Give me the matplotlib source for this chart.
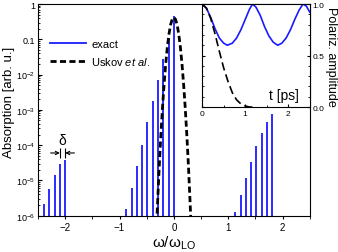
import matplotlib
matplotlib.use("Agg")
import matplotlib.pyplot as plt
import numpy as np
from matplotlib.ticker import FixedLocator, LogLocator, MultipleLocator, NullFormatter

plt.rcParams['font.family'] = ['Liberation Sans', 'DejaVu Sans']
plt.rcParams['mathtext.fontset'] = 'custom'
plt.rcParams['mathtext.rm'] = 'Liberation Sans'
plt.rcParams['mathtext.it'] = 'Liberation Sans:italic'

# main panel: absorption lines ("exact")
line_pos = [-2.388, -2.291, -2.194, -2.097, -2.0,
            -0.873, -0.776, -0.679, -0.582, -0.485, -0.388, -0.291, -0.194, -0.097, 0.0,
            1.13, 1.227, 1.324, 1.421, 1.518, 1.615, 1.712, 1.809]
line_height = [2.1e-6, 5.8e-6, 1.4e-5, 2.9e-5, 3.8e-5,
               1.55e-6, 6.2e-6, 2.6e-5, 1.0e-4, 4.5e-4, 1.75e-3, 6.9e-3, 2.75e-2, 0.112, 0.45,
               1.25e-6, 3.9e-6, 1.17e-5, 3.4e-5, 9.3e-5, 2.2e-4, 4.5e-4, 7.6e-4]

# main panel: Uskov et al. spectrum
usk_w = [-0.33, -0.30, -0.27, -0.24, -0.21, -0.18, -0.15, -0.12, -0.09, -0.06, -0.03, 0.0,
         0.03, 0.06, 0.09, 0.12, 0.15, 0.18, 0.21, 0.24, 0.27, 0.30, 0.33]
usk_abs = [1.8e-7, 2.2e-6, 2.3e-5, 1.8e-4, 1.1e-3, 5.2e-3, 2.0e-2, 6.0e-2, 0.14, 0.26, 0.37, 0.42,
           0.37, 0.26, 0.14, 6.0e-2, 2.0e-2, 5.2e-3, 1.1e-3, 1.8e-4, 2.3e-5, 2.2e-6, 1.8e-7]

# inset: polarization amplitude vs time
t_exact = [0.0, 0.1, 0.2, 0.3, 0.4, 0.5, 0.585, 0.7, 0.8, 0.9, 1.0, 1.1, 1.17,
           1.25, 1.35, 1.45, 1.55, 1.65, 1.755, 1.85, 1.95, 2.05, 2.15, 2.25, 2.34, 2.42, 2.5]
p_exact = [1.0, 0.96, 0.87, 0.76, 0.67, 0.62, 0.60, 0.62, 0.67, 0.75, 0.85, 0.95, 1.0,
           0.97, 0.89, 0.78, 0.69, 0.63, 0.60, 0.62, 0.67, 0.75, 0.85, 0.94, 1.0, 0.98, 0.92]
t_usk = [0.0, 0.1, 0.2, 0.3, 0.4, 0.5, 0.6, 0.7, 0.8, 0.9, 1.0, 1.1, 1.2]
p_usk = [1.0, 0.96, 0.86, 0.71, 0.54, 0.38, 0.25, 0.14, 0.07, 0.03, 0.01, 0.0, 0.0]

blue = '#1a1aff'

fig = plt.figure(figsize=(3.38, 2.53), dpi=100)
ax = fig.add_axes([0.1124, 0.1435, 0.8039, 0.8365])

ax.vlines(line_pos, 1e-6, line_height, color=blue, lw=1.3)
ax.plot([], [], color=blue, lw=1.3, label='exact')
ax.plot(usk_w, usk_abs, color='black', lw=2.0, ls=(0, (2.2, 1.2)),
        label='Uskov $\\it{et\\ al.}$')

ax.set_yscale('log')
ax.set_xlim(-2.5, 2.5)
ax.set_ylim(1e-6, 1)
ax.yaxis.set_major_locator(FixedLocator([1e-6, 1e-5, 1e-4, 1e-3, 1e-2, 0.1, 1]))
ax.set_yticklabels(['$10^{-6}$', '$10^{-5}$', '$10^{-4}$', '$10^{-3}$', '$10^{-2}$', '0.1', '1'])
ax.yaxis.set_minor_locator(LogLocator(base=10, subs=np.arange(2, 10)))
ax.yaxis.set_minor_formatter(NullFormatter())
ax.xaxis.set_major_locator(FixedLocator([-2, -1, 0, 1, 2]))
ax.xaxis.set_minor_locator(MultipleLocator(0.5))
ax.tick_params(axis='y', which='both', direction='in', labelsize=6.5, pad=2)
ax.tick_params(axis='y', which='major', length=3)
ax.tick_params(axis='y', which='minor', length=1.5)
ax.tick_params(axis='x', which='both', direction='out', labelsize=7, pad=2, length=2.5)
ax.set_xlabel('$\\mathrm{ω/ω}_{\\mathrm{LO}}$', fontsize=11, labelpad=1)
ax.set_ylabel('Absorption [arb. u.]', fontsize=9.5)
ax.yaxis.set_label_coords(-0.085, 0.54)
ax.legend(loc='upper left', bbox_to_anchor=(0.025, 0.86), frameon=False, fontsize=8,
          handlelength=3.2, handletextpad=0.5, labelspacing=0.55, borderpad=0)

# delta annotation between last two lines of the left group
ya = 6e-5
ax.annotate('', xy=(line_pos[3], ya), xytext=(line_pos[3] - 0.17, ya),
            arrowprops=dict(arrowstyle='->', lw=0.8, color='black', mutation_scale=6,
                            shrinkA=0, shrinkB=0))
ax.annotate('', xy=(line_pos[4], ya), xytext=(line_pos[4] + 0.17, ya),
            arrowprops=dict(arrowstyle='->', lw=0.8, color='black', mutation_scale=6,
                            shrinkA=0, shrinkB=0))
ax.vlines([line_pos[3], line_pos[4]], 4.3e-5, 8.5e-5, color='black', lw=0.8)
ax.text((line_pos[3] + line_pos[4]) / 2, 0.9e-4, 'δ', ha='center', va='bottom', fontsize=10)

# inset
ins = fig.add_axes([0.598, 0.573, 0.3186, 0.407])
ins.plot(t_exact, p_exact, color=blue, lw=1.2)
ins.plot(t_usk, p_usk, color='black', lw=1.2, ls=(0, (5, 2.5)))
ins.set_xlim(0, 2.5)
ins.set_ylim(0, 1)
ins.xaxis.set_major_locator(FixedLocator([0, 1, 2]))
ins.xaxis.set_minor_locator(MultipleLocator(0.5))
ins.yaxis.set_major_locator(FixedLocator([0, 0.5, 1.0]))
ins.yaxis.set_minor_locator(MultipleLocator(0.1))
ins.set_yticklabels(['0.0', '0.5', '1.0'])
ins.yaxis.tick_right()
ins.yaxis.set_label_position('right')
ins.tick_params(axis='both', which='both', direction='in', labelsize=6, pad=2,
                left=True, right=True)
ins.tick_params(which='major', length=2.5)
ins.tick_params(which='minor', length=1.5)
ins.set_ylabel('Polariz. amplitude', fontsize=9, rotation=270, labelpad=9)
ins.text(0.62, 0.08, 't [ps]', transform=ins.transAxes, fontsize=10)

fig.savefig('out.png', dpi=100)
